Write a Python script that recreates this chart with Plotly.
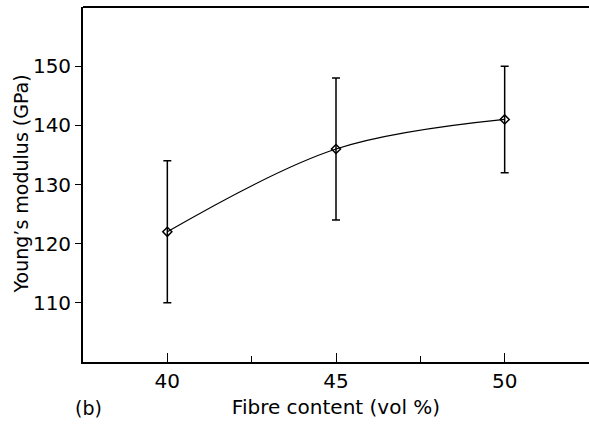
import plotly.graph_objects as go

fibre = [40, 45, 50]
modulus = [122, 136, 141]
err_plus = [12, 12, 9]
err_minus = [12, 12, 9]
y_ticks = [110, 120, 130, 140, 150]
x_ticks = [40, 45, 50]

FONT = "DejaVu Sans, Arial, sans-serif"

fig = go.Figure()
fig.add_trace(go.Scatter(
    x=fibre, y=modulus, mode="lines+markers",
    line=dict(color="black", width=1.2, shape="spline", smoothing=1.0),
    marker=dict(symbol="diamond-open", size=7, color="black", line=dict(width=1.5)),
    error_y=dict(type="data", symmetric=False, array=err_plus, arrayminus=err_minus,
                 color="black", thickness=1.5, width=4),
    showlegend=False,
))

fig.update_layout(
    width=589, height=431,
    margin=dict(l=83, r=0, t=7, b=69),
    paper_bgcolor="white", plot_bgcolor="white",
    font=dict(family=FONT, color="black", size=20),
    xaxis=dict(
        range=[37.5, 52.5], tickvals=x_ticks, ticks="inside", ticklen=9, tickwidth=1.3,
        tickcolor="black", showgrid=False, zeroline=False,
        showline=True, linecolor="black", linewidth=1.8, mirror=False,
        tickfont=dict(size=20, family=FONT),
        title=dict(text="Fibre content (vol %)", font=dict(size=20, family=FONT), standoff=8),
        minor=dict(tickvals=[42.5, 47.5], ticks="inside", ticklen=6, tickwidth=1.2, tickcolor="black", showgrid=False),
    ),
    yaxis=dict(
        range=[100, 160], tickvals=y_ticks, ticks="outside", ticklen=6, tickwidth=1.3,
        tickcolor="black", showgrid=False, zeroline=False,
        showline=True, linecolor="black", linewidth=1.8, mirror=False,
        tickfont=dict(size=20, family=FONT),
    ),
    shapes=[dict(type="line", xref="paper", yref="paper", x0=0, x1=1, y0=1, y1=1,
                 line=dict(color="black", width=1.8))],
    annotations=[
        dict(text="(b)", xref="paper", yref="paper", x=-0.02, y=-0.13,
             xanchor="left", yanchor="middle", showarrow=False,
             font=dict(size=19, family=FONT)),
        dict(text="Young\u2019s modulus (GPa)", xref="paper", yref="paper", x=0, y=0.5,
             xanchor="center", yanchor="middle", xshift=-63, textangle=-90, showarrow=False,
             font=dict(size=19, family=FONT)),
    ],
)

fig.write_html("out.html")
